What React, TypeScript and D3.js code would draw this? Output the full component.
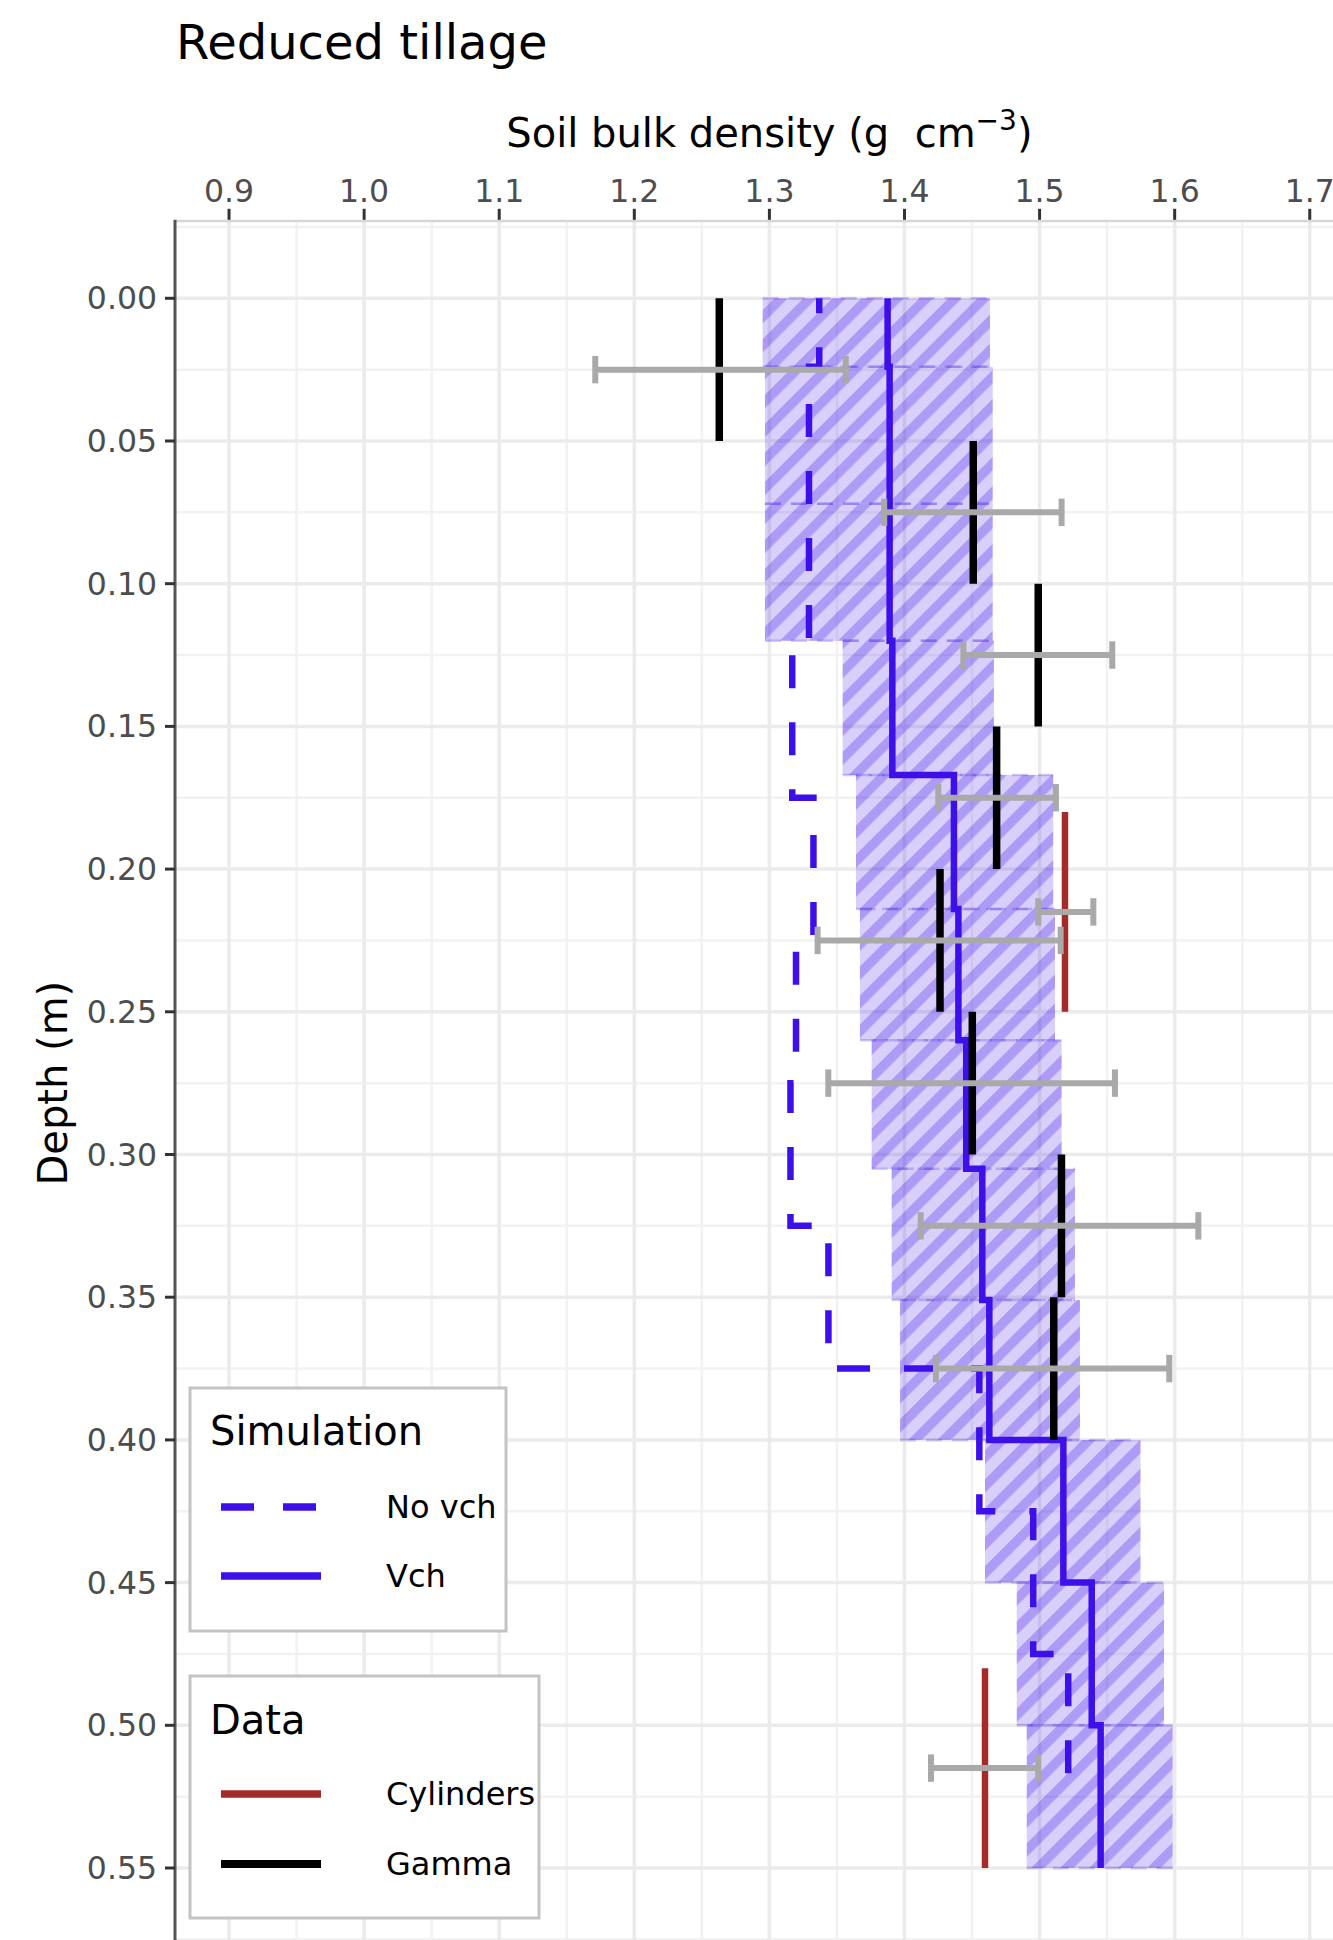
import React from 'react';
import * as d3 from 'd3';

const W = 1333;
const H = 1940;

// axis ticks
const xTicks = [0.9, 1.0, 1.1, 1.2, 1.3, 1.4, 1.5, 1.6, 1.7];
const yTicks = [0, 0.05, 0.1, 0.15, 0.2, 0.25, 0.3, 0.35, 0.4, 0.45, 0.5, 0.55];

// Simulation with volume change (Vch): layers, mean and uncertainty band
const vchTop = [0, 0.024, 0.072, 0.12, 0.167, 0.214, 0.26, 0.305, 0.351, 0.4, 0.45, 0.5];
const vchBottom = [0.024, 0.072, 0.12, 0.167, 0.214, 0.26, 0.305, 0.351, 0.4, 0.45, 0.5, 0.55];
const vchMean = [1.3875, 1.389, 1.389, 1.391, 1.4366, 1.4399, 1.4457, 1.4576, 1.4628, 1.5176, 1.5386, 1.5452];
const bandLow = [1.295, 1.2967, 1.2967, 1.3542, 1.3641, 1.367, 1.3757, 1.3905, 1.3967, 1.4596, 1.4831, 1.4905];
const bandHigh = [1.4633, 1.4653, 1.4653, 1.4662, 1.5101, 1.5114, 1.5163, 1.5262, 1.5299, 1.5747, 1.5921, 1.5985];

// Simulation without volume change (No vch)
const noVchTop = [0, 0.024, 0.12, 0.175, 0.225, 0.275, 0.325, 0.375, 0.425, 0.475];
const noVchBottom = [0.024, 0.12, 0.175, 0.225, 0.275, 0.325, 0.375, 0.425, 0.475, 0.526];
const noVchValue = [1.3369, 1.3293, 1.3169, 1.3326, 1.3197, 1.3156, 1.3437, 1.4554, 1.4953, 1.5212];

// Gamma data
const gammaTop = [0, 0.05, 0.1, 0.15, 0.2, 0.25, 0.3, 0.35];
const gammaBottom = [0.05, 0.1, 0.15, 0.2, 0.25, 0.3, 0.35, 0.4];
const gammaValue = [1.2629, 1.4509, 1.499, 1.4682, 1.4263, 1.4502, 1.5162, 1.5105];
const gammaBarDepth = [0.025, 0.075, 0.125, 0.175, 0.225, 0.275, 0.325, 0.375];
const gammaBarLow = [1.1711, 1.385, 1.4436, 1.425, 1.3357, 1.3436, 1.412, 1.4233];
const gammaBarHigh = [1.3565, 1.5163, 1.5538, 1.5121, 1.5156, 1.5558, 1.6175, 1.596];

// Cylinder data
const cylTop = [0.18, 0.48];
const cylBottom = [0.25, 0.55];
const cylValue = [1.5188, 1.4596];
const cylBarDepth = [0.215, 0.515];
const cylBarLow = [1.499, 1.4196];
const cylBarHigh = [1.5398, 1.499];

const BLUE = '#3d10ea';
const BROWN = '#a52a2a';
const GREY = '#a9a9a9';
const FONT = 'DejaVu Sans, Verdana, sans-serif';

export default function App() {
  const x = d3.scaleLinear().domain([0.86, 1.74]).range([175, 1363.8]);
  const y = d3.scaleLinear().domain([-0.0275, 0.5775]).range([219.8, 1946.5]);
  const [px0, px1] = x.range();
  const [py0, py1] = y.range();

  const xMinor = d3.range(0.95, 1.7, 0.1);
  const yMinor = d3.range(-0.025, 0.58, 0.05);

  const line = d3
    .line<[number, number]>()
    .x((d) => x(d[0]))
    .y((d) => y(d[1]));

  const vchPts: [number, number][] = [];
  vchMean.forEach((v, i) => {
    vchPts.push([v, vchTop[i]]);
    vchPts.push([v, vchBottom[i]]);
  });
  const noVchPts: [number, number][] = [];
  noVchValue.forEach((v, i) => {
    noVchPts.push([v, noVchTop[i]]);
    noVchPts.push([v, noVchBottom[i]]);
  });

  const capH = 0.0048;
  const fmtY = d3.format('.2f');
  const fmtX = d3.format('.1f');

  return (
    <svg
      width={W}
      height={H}
      style={{ position: 'absolute', left: 0, top: 0, background: 'white' }}
      fontFamily={FONT}
    >
      <defs>
        <clipPath id="panel">
          <rect x={px0} y={py0} width={W - px0} height={H - py0} />
        </clipPath>
        <pattern
          id="hatch"
          patternUnits="userSpaceOnUse"
          width={20.5}
          height={20.5}
          patternTransform="rotate(45)"
        >
          <rect x={0} y={0} width={20.5} height={20.5} fill={BLUE} fillOpacity={0.2} />
          <rect x={0} y={0} width={9.5} height={20.5} fill={BLUE} fillOpacity={0.27} />
        </pattern>
      </defs>
      <rect x={0} y={0} width={W} height={H} fill="white" />

      {/* title */}
      <text x={176} y={59} fontSize={48} fill="#000">
        Reduced tillage
      </text>
      {/* x axis title */}
      <text
        x={(px0 + px1) / 2}
        y={147}
        fontSize={40}
        textAnchor="middle"
        fill="#000"
        xmlSpace="preserve"
        style={{ whiteSpace: 'pre' }}
      >
        {'Soil bulk density (g  cm'}
        <tspan dy={-17} fontSize={28}>
          −3
        </tspan>
        <tspan dy={17}>)</tspan>
      </text>
      {/* y axis title */}
      <text
        transform={`translate(67,${(py0 + py1) / 2}) rotate(-90)`}
        fontSize={40}
        textAnchor="middle"
        fill="#000"
      >
        Depth (m)
      </text>

      <g clipPath="url(#panel)">
        {/* grid */}
        {xMinor.map((t) => (
          <line key={'xm' + t} x1={x(t)} x2={x(t)} y1={py0} y2={H} stroke="#f2f2f2" strokeWidth={2.5} />
        ))}
        {yMinor.map((t) => (
          <line key={'ym' + t} x1={px0} x2={W} y1={y(t)} y2={y(t)} stroke="#f2f2f2" strokeWidth={2.5} />
        ))}
        {xTicks.map((t) => (
          <line key={'xg' + t} x1={x(t)} x2={x(t)} y1={py0} y2={H} stroke="#ebebeb" strokeWidth={3.5} />
        ))}
        {yTicks.map((t) => (
          <line key={'yg' + t} x1={px0} x2={W} y1={y(t)} y2={y(t)} stroke="#ebebeb" strokeWidth={3.5} />
        ))}
        <line x1={px0} x2={W} y1={py0 + 1} y2={py0 + 1} stroke="#d6d6d6" strokeWidth={3} />

        {/* uncertainty band */}
        {bandLow.map((lo, i) => (
          <g key={'band' + i}>
            <rect
              x={x(lo)}
              y={y(vchTop[i])}
              width={x(bandHigh[i]) - x(lo)}
              height={y(vchBottom[i]) - y(vchTop[i])}
              fill="url(#hatch)"
            />
            <line
              x1={x(lo)}
              x2={x(bandHigh[i])}
              y1={y(vchTop[i])}
              y2={y(vchTop[i])}
              stroke={BLUE}
              strokeOpacity={0.22}
              strokeWidth={2.5}
              strokeDasharray="16 10"
            />
            <line
              x1={x(lo)}
              x2={x(bandHigh[i])}
              y1={y(vchBottom[i])}
              y2={y(vchBottom[i])}
              stroke={BLUE}
              strokeOpacity={0.22}
              strokeWidth={2.5}
              strokeDasharray="16 10"
            />
          </g>
        ))}

        {/* simulations */}
        <path
          d={line(noVchPts) || ''}
          fill="none"
          stroke={BLUE}
          strokeWidth={6.5}
          strokeDasharray="33 34"
          strokeDashoffset={18}
          strokeLinejoin="miter"
        />
        <path d={line(vchPts) || ''} fill="none" stroke={BLUE} strokeWidth={6.5} strokeLinejoin="miter" />

        {/* data segments */}
        {gammaValue.map((v, i) => (
          <line
            key={'g' + i}
            x1={x(v)}
            x2={x(v)}
            y1={y(gammaTop[i])}
            y2={y(gammaBottom[i])}
            stroke="#000"
            strokeWidth={7.5}
          />
        ))}
        {cylValue.map((v, i) => (
          <line
            key={'c' + i}
            x1={x(v)}
            x2={x(v)}
            y1={y(cylTop[i])}
            y2={y(cylBottom[i])}
            stroke={BROWN}
            strokeWidth={6.5}
          />
        ))}

        {/* error bars */}
        {[...gammaBarDepth.map((d, i) => [d, gammaBarLow[i], gammaBarHigh[i]]),
          ...cylBarDepth.map((d, i) => [d, cylBarLow[i], cylBarHigh[i]])].map(([d, lo, hi], i) => (
          <g key={'eb' + i} stroke={GREY} strokeWidth={6}>
            <line x1={x(lo)} x2={x(hi)} y1={y(d)} y2={y(d)} />
            <line x1={x(lo)} x2={x(lo)} y1={y(d - capH)} y2={y(d + capH)} />
            <line x1={x(hi)} x2={x(hi)} y1={y(d - capH)} y2={y(d + capH)} />
          </g>
        ))}
      </g>

      {/* axes */}
      <line x1={px0} x2={px0} y1={py0} y2={H} stroke="#555" strokeWidth={3} />
      {xTicks.map((t) => (
        <g key={'xt' + t}>
          <line x1={x(t)} x2={x(t)} y1={py0 - 11} y2={py0} stroke="#333" strokeWidth={3} />
          <text x={x(t)} y={202} fontSize={31.5} textAnchor="middle" fill="#4d4d4d">
            {fmtX(t)}
          </text>
        </g>
      ))}
      {yTicks.map((t) => (
        <g key={'yt' + t}>
          <line x1={px0 - 10} x2={px0} y1={y(t)} y2={y(t)} stroke="#333" strokeWidth={3} />
          <text x={157} y={y(t)} fontSize={31.5} textAnchor="end" dominantBaseline="central" fill="#4d4d4d">
            {fmtY(t)}
          </text>
        </g>
      ))}

      {/* legend: Simulation */}
      <g>
        <rect x={190} y={1388} width={316} height={243} fill="white" stroke="#c4c4c4" strokeWidth={3} />
        <text x={210} y={1445} fontSize={40} fill="#000">
          Simulation
        </text>
        <line x1={221} x2={321} y1={1507} y2={1507} stroke={BLUE} strokeWidth={7.5} strokeDasharray="33 29" />
        <text x={386} y={1507} fontSize={32} dominantBaseline="central" fill="#000">
          No vch
        </text>
        <line x1={221} x2={321} y1={1576} y2={1576} stroke={BLUE} strokeWidth={7.5} />
        <text x={386} y={1576} fontSize={32} dominantBaseline="central" fill="#000">
          Vch
        </text>
      </g>
      {/* legend: Data */}
      <g>
        <rect x={190} y={1676} width={349} height={242} fill="white" stroke="#c4c4c4" strokeWidth={3} />
        <text x={210} y={1734} fontSize={40} fill="#000">
          Data
        </text>
        <line x1={221} x2={321} y1={1794} y2={1794} stroke={BROWN} strokeWidth={7.5} />
        <text x={386} y={1794} fontSize={32} dominantBaseline="central" fill="#000">
          Cylinders
        </text>
        <line x1={221} x2={321} y1={1864} y2={1864} stroke="#000" strokeWidth={8} />
        <text x={386} y={1864} fontSize={32} dominantBaseline="central" fill="#000">
          Gamma
        </text>
      </g>
    </svg>
  );
}
